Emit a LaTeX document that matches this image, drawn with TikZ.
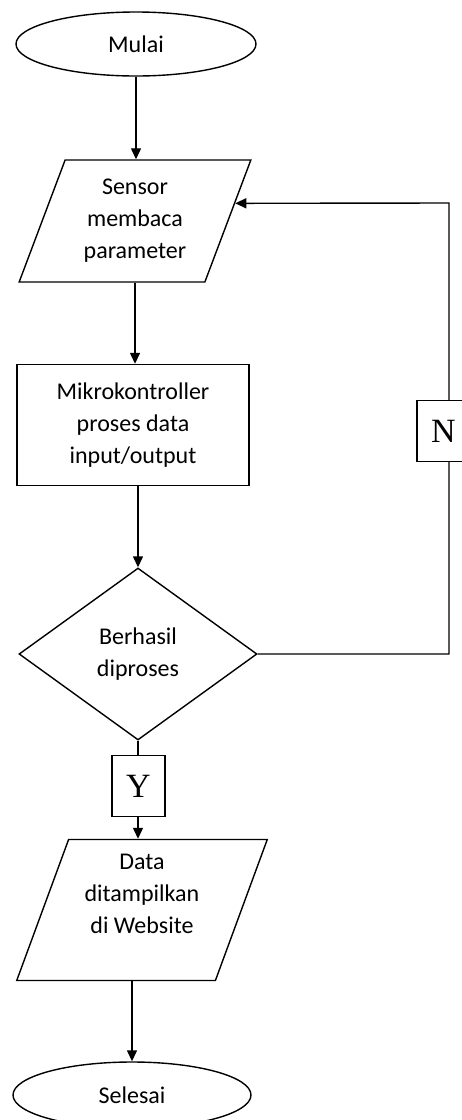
\documentclass[tikz,border=0pt]{standalone}
\usepackage{fontspec}
\setmainfont{Carlito}
\newfontfamily\hurufserif{Liberation Serif}
\usetikzlibrary{arrows.meta}
\usetikzlibrary{shapes.geometric}

\begin{document}
\begin{tikzpicture}[x=1pt,y=-1pt,line width=1.4pt,font=\fontsize{24}{32}\selectfont,
	terminal/.style={draw,ellipse,minimum width=240pt,minimum height=64pt,inner sep=0pt},
	data/.style={draw,trapezium,trapezium left angle=68,trapezium right angle=112,trapezium stretches=true,inner sep=0pt,align=center},
	proses/.style={draw,rectangle,inner sep=0pt,align=center},
	keputusan/.style={draw,diamond,inner sep=0pt,align=center},
	jawab/.style={draw,fill=white,minimum width=53pt,minimum height=61pt,inner sep=0pt,font=\hurufserif\fontsize{34}{34}\selectfont},
	panah/.style={-{Triangle[width=10pt,length=11pt]}}]

	    \useasboundingbox (0,0) rectangle (461,1120);

	    \node[terminal] (mulai) at (136,44) {Mulai};
	    \node[data,minimum width=232pt,minimum height=122pt] (sensor) at (135,221) {Sensor\\membaca\\parameter};
	    \node[proses,minimum width=232pt,minimum height=121pt] (mikro) at (133,425) {Mikrokontroller\\proses data\\input/output};
	    \node[keputusan,minimum width=238pt,minimum height=172pt] (cek) at (138,654) {Berhasil\\diproses};
	    \node[data,minimum width=251pt,minimum height=141pt,trapezium left angle=70,trapezium right angle=110] (tampil) at (142,910) {Data\\ditampilkan\\di Website\\\mbox{}};
	    \node[terminal,minimum width=238pt,minimum height=66pt] (selesai) at (132,1095) {Selesai};
	    \coordinate (balik) at (449,203);

	    \draw[panah] (mulai.south) -- (mulai.south |- sensor.north);
	    \draw[panah] (sensor.south) -- (sensor.south |- mikro.north);
	    \draw[panah] (mikro.south -| cek.north) -- (cek.north);
	    \draw[panah] (cek.south) -- (cek.south |- tampil.north);
	    \draw[panah] (tampil.south -| selesai.north) -- (selesai.north);
	    \draw[panah] (cek.east) -| (balik) -- (sensor.10);

	    \node[jawab] (tidak) at (443.5,431) {N};
	    \node[jawab] (ya) at (138.5,786) {Y};

\end{tikzpicture}
\end{document}
